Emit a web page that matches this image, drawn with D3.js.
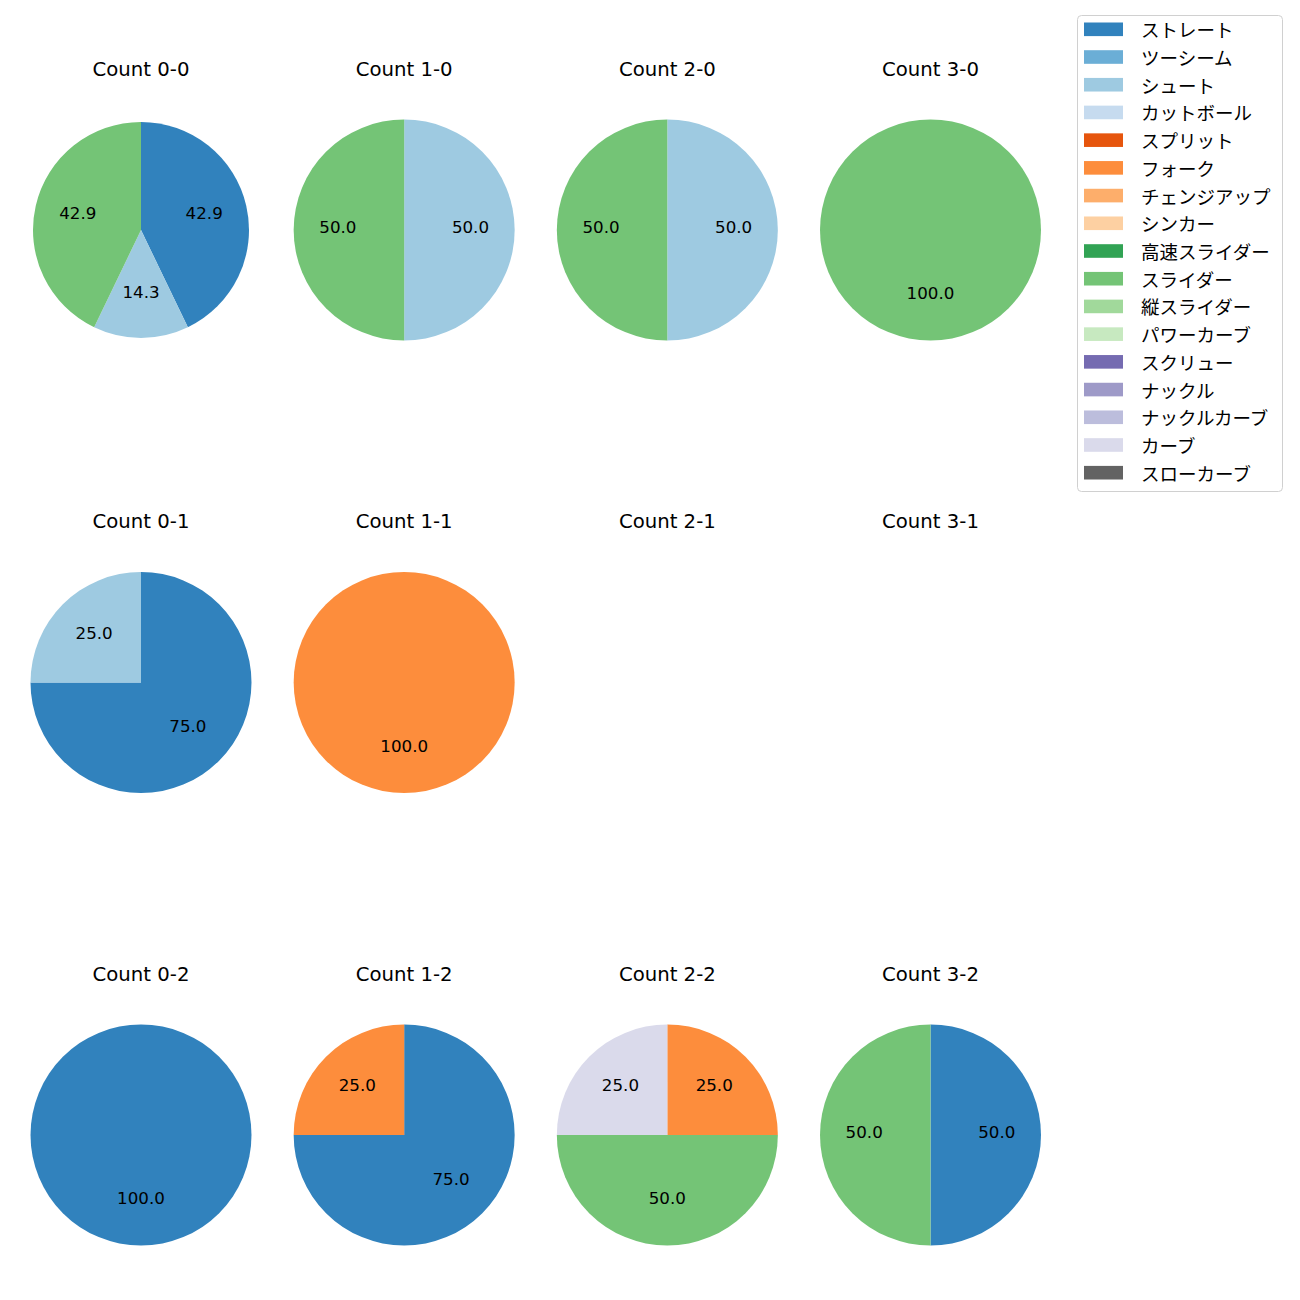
<!DOCTYPE html>
<html><head><meta charset="utf-8">
<script src="https://cdn.jsdelivr.net/npm/d3@7"></script>
<style>body{margin:0;background:#fff}</style>
</head><body>
<script>
const pitchTypes = ["ストレート","ツーシーム","シュート","カットボール","スプリット","フォーク","チェンジアップ","シンカー","高速スライダー","スライダー","縦スライダー","パワーカーブ","スクリュー","ナックル","ナックルカーブ","カーブ","スローカーブ"];
const pitchColors = ["#3182bd","#6baed6","#9ecae1","#c6dbef","#e6550d","#fd8d3c","#fdae6b","#fdd0a2","#31a354","#74c476","#a1d99b","#c7e9c0","#756bb1","#9e9ac8","#bcbddc","#dadaeb","#636363"];
const countLabels = ["0-0","1-0","2-0","3-0","0-1","1-1","2-1","3-1","0-2","1-2","2-2","3-2"];
// pitch counts per count situation, in pitchTypes order
const c00 = [3,0,1,0,0,0,0,0,0,3,0,0,0,0,0,0,0];
const c10 = [0,0,1,0,0,0,0,0,0,1,0,0,0,0,0,0,0];
const c20 = [0,0,1,0,0,0,0,0,0,1,0,0,0,0,0,0,0];
const c30 = [0,0,0,0,0,0,0,0,0,1,0,0,0,0,0,0,0];
const c01 = [3,0,1,0,0,0,0,0,0,0,0,0,0,0,0,0,0];
const c11 = [0,0,0,0,0,1,0,0,0,0,0,0,0,0,0,0,0];
const c21 = [0,0,0,0,0,0,0,0,0,0,0,0,0,0,0,0,0];
const c31 = [0,0,0,0,0,0,0,0,0,0,0,0,0,0,0,0,0];
const c02 = [1,0,0,0,0,0,0,0,0,0,0,0,0,0,0,0,0];
const c12 = [3,0,0,0,0,1,0,0,0,0,0,0,0,0,0,0,0];
const c22 = [0,0,0,0,0,1,0,0,0,2,0,0,0,0,0,1,0];
const c32 = [1,0,0,0,0,0,0,0,0,1,0,0,0,0,0,0,0];
const countValues = [c00,c10,c20,c30,c01,c11,c21,c31,c02,c12,c22,c32];

const W = 1300, H = 1300;
const latinFont = "'DejaVu Sans', 'Noto Sans CJK JP', sans-serif";
const cjkFont = "'Noto Sans CJK JP', 'DejaVu Sans', sans-serif";
const svg = d3.select("body").append("svg").attr("width", W).attr("height", H);

const colX = d3.scalePoint().domain([0,1,2,3]).range([141, 930.5]);
const rowY = d3.scalePoint().domain([0,1,2]).range([230, 1135]);
const color = d3.scaleOrdinal().domain(pitchTypes).range(pitchColors);

const pie = d3.pie().sort(null).value(d => d.v);

countLabels.forEach((lab, i) => {
  const col = i % 4, row = Math.floor(i / 4);
  const cx = colX(col), cy = rowY(row);
  const R = i === 0 ? 108 : 110.5;
  const arc = d3.arc().innerRadius(0).outerRadius(R);
  const labelArc = d3.arc().innerRadius(R*0.6).outerRadius(R*0.6);
  const g = svg.append("g").attr("transform", `translate(${cx},${cy})`);
  g.append("text").attr("x", 0).attr("y", -161).attr("text-anchor", "middle")
    .attr("dominant-baseline", "central").attr("font-size", 19.7)
    .style("font-family", latinFont).attr("fill", "#000")
    .text("Count " + lab);
  const data = pitchTypes.map((p, k) => ({p, v: countValues[i][k]})).filter(d => d.v > 0);
  const total = d3.sum(data, d => d.v);
  if (!total) return;
  const arcs = pie(data);
  g.selectAll("path").data(arcs).join("path")
    .attr("d", arc).attr("fill", d => color(d.data.p));
  g.selectAll("text.lbl").data(arcs).join("text").attr("class", "lbl")
    .attr("transform", d => { const c = labelArc.centroid(d); return `translate(${c[0]},${c[1] - 3})`; })
    .attr("text-anchor", "middle").attr("dominant-baseline", "central")
    .attr("font-size", 16.7).style("font-family", latinFont).attr("fill", "#000")
    .text(d => (d.data.v / total * 100).toFixed(1));
});

// legend
const lg = svg.append("g");
lg.append("rect").attr("x", 1077.5).attr("y", 15.5).attr("width", 205).attr("height", 476)
  .attr("rx", 4).attr("fill", "#fff").attr("stroke", "#d0d0d0").attr("stroke-width", 1);
const ly = d3.scaleLinear().domain([0, pitchTypes.length - 1]).range([29.3, 472.7]);
pitchTypes.forEach((p, k) => {
  lg.append("rect").attr("x", 1084).attr("y", ly(k) - 6.8).attr("width", 39).attr("height", 13.6)
    .attr("fill", color(p));
  lg.append("text").attr("x", 1141).attr("y", ly(k)).attr("dominant-baseline", "central")
    .attr("font-size", 18.5).style("font-family", cjkFont).attr("fill", "#000").text(p);
});
</script>
</body></html>
